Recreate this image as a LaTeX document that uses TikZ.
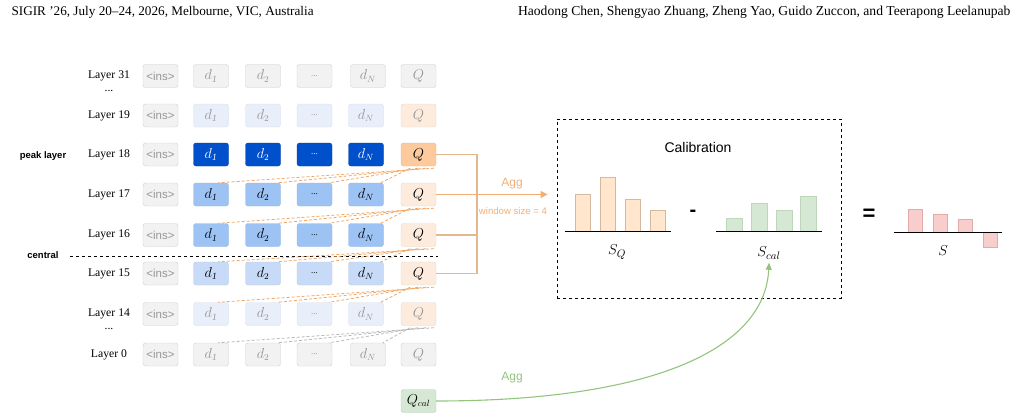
\documentclass[tikz,border=0pt]{standalone}
\usepackage{fontspec}
\setmainfont{Liberation Serif}
\setsansfont{Liberation Sans}
\usepackage{tikz}
\usetikzlibrary{arrows.meta,positioning,calc}
\definecolor{offfill}{RGB}{242,242,242}
\definecolor{offline}{RGB}{206,206,206}
\definecolor{offtext}{RGB}{150,150,150}
\definecolor{peakblue}{RGB}{0,80,204}
\definecolor{midblue}{RGB}{157,195,245}
\definecolor{lowblue}{RGB}{199,219,248}
\definecolor{paleblue}{RGB}{232,239,250}
\definecolor{peakorg}{RGB}{252,202,156}
\definecolor{paleorg}{RGB}{253,236,222}
\definecolor{aggorg}{RGB}{243,174,115}
\definecolor{brkorg}{RGB}{228,184,142}
\definecolor{attnorg}{RGB}{240,166,100}
\definecolor{attngray}{RGB}{185,185,185}
\definecolor{calgreen}{RGB}{213,232,212}
\definecolor{calline}{RGB}{146,196,125}
\definecolor{sqfill}{RGB}{255,230,204}
\definecolor{sqline}{RGB}{212,184,160}
\definecolor{scline}{RGB}{190,214,186}
\definecolor{sfill}{RGB}{248,206,204}
\definecolor{sline}{RGB}{226,170,168}
\tikzset{
  tok/.style={draw=offline,rounded corners=2.5pt,minimum width=35pt,minimum height=23pt,inner sep=0pt,font=\fontsize{13.5}{15}\selectfont},
  off/.style={tok,fill=offfill,text=offtext},
  ins/.style={off,font=\sffamily\fontsize{11.5}{13}\selectfont},
  dpeak/.style={tok,fill=peakblue,draw=peakblue!80!black,text=white},
  dmid/.style={tok,fill=midblue,draw=midblue!80!gray},
  dlow/.style={tok,fill=lowblue,draw=lowblue!80!gray},
  dpale/.style={tok,fill=paleblue,draw=paleblue!85!gray,text=offtext},
  qpeak/.style={tok,fill=peakorg,draw=peakorg!80!gray},
  qmid/.style={tok,fill=paleorg,draw=paleorg!80!gray},
  qpale/.style={qmid,text=offtext},
  qcal/.style={tok,fill=calgreen,draw=calgreen!75!gray},
  layer/.style={font=\fontsize{11.7}{13}\selectfont},
  side/.style={font=\sffamily\bfseries\fontsize{9.5}{11}\selectfont},
  attn/.style={draw=attnorg,dash pattern=on 3pt off 2pt,line width=0.8pt},
  attng/.style={attn,draw=attngray},
  brk/.style={draw=brkorg,line width=1.2pt},
  aggarr/.style={draw=aggorg,line width=1.5pt,-{Triangle[length=7pt,width=7pt]}},
  calarr/.style={draw=calline,line width=1.1pt,-{Triangle[length=7pt,width=6pt]}},
  barq/.style={fill=sqfill,draw=sqline,line width=0.7pt},
  barc/.style={fill=calgreen,draw=scline,line width=0.7pt},
  bars/.style={fill=sfill,draw=sline,line width=0.7pt},
  axis/.style={line width=1pt}
}
\begin{document}
\begin{tikzpicture}[x=1pt,y=-1pt]
\useasboundingbox (0,0) rectangle (1022,420);
% header
\node[anchor=west,font=\fontsize{13.2}{15}\selectfont] (conf) at (8,12) {SIGIR '26, July 20--24, 2026, Melbourne, VIC, Australia};
\node[anchor=east,font=\fontsize{13.6}{15}\selectfont] (auth) at (1014,12) {Haodong Chen, Shengyao Zhuang, Zheng Yao, Guido Zuccon, and Teerapong Leelanupab};
% layer labels
\node[layer] (l31) at (109,76) {Layer 31};
\node[layer] (v31) at (109,91) {...};
\node[layer] (l19) at (109,115.5) {Layer 19};
\node[layer] (l18) at (109,154.5) {Layer 18};
\node[layer] (l17) at (109,194.5) {Layer 17};
\node[layer] (l16) at (109,235) {Layer 16};
\node[layer] (l15) at (109,273.5) {Layer 15};
\node[layer] (l14) at (109,314) {Layer 14};
\node[layer] (v14) at (109,329) {...};
\node[layer] (l0) at (109,354.5) {Layer 0};
\node[side] (peak) at (43,156) {peak layer};
\node[side] (central) at (43,255) {central};
% layer 31
\node[ins] (i31) at (160.5,76) {<ins>};
\node[off] (d31a) at (211,76) {$d_{\mathit{1}}$};
\node[off] (d31b) at (263,76) {$d_2$};
\node[off] (d31c) at (314.5,76) {\small ...};
\node[off] (d31n) at (368,76) {$d_N$};
\node[off] (q31) at (418.5,76) {$Q$};
% layer 19
\node[ins] (i19) at (160.5,115.5) {<ins>};
\node[dpale] (d19a) at (211,115.5) {$d_{\mathit{1}}$};
\node[dpale] (d19b) at (263,115.5) {$d_2$};
\node[dpale] (d19c) at (314.5,115.5) {\small ...};
\node[dpale] (d19n) at (366,115.5) {$d_N$};
\node[qpale] (q19) at (418.5,115.5) {$Q$};
% layer 18
\node[ins] (i18) at (160.5,154.5) {<ins>};
\node[dpeak] (d18a) at (211,154.5) {$d_{\mathit{1}}$};
\node[dpeak] (d18b) at (263,154.5) {$d_2$};
\node[dpeak] (d18c) at (314.5,154.5) {\small ...};
\node[dpeak] (d18n) at (366,154.5) {$d_N$};
\node[qpeak] (q18) at (418.5,154.5) {$Q$};
% layer 17
\node[ins] (i17) at (160.5,194.5) {<ins>};
\node[dmid] (d17a) at (211,194.5) {$d_{\mathit{1}}$};
\node[dmid] (d17b) at (263,194.5) {$d_2$};
\node[dmid] (d17c) at (314.5,194.5) {\small ...};
\node[dmid] (d17n) at (366,194.5) {$d_N$};
\node[qmid] (q17) at (418.5,194.5) {$Q$};
% layer 16
\node[ins] (i16) at (160.5,235) {<ins>};
\node[dmid] (d16a) at (211,235) {$d_{\mathit{1}}$};
\node[dmid] (d16b) at (263,235) {$d_2$};
\node[dmid] (d16c) at (314.5,235) {\small ...};
\node[dmid] (d16n) at (366,235) {$d_N$};
\node[qmid] (q16) at (418.5,235) {$Q$};
% layer 15
\node[ins] (i15) at (160.5,273.5) {<ins>};
\node[dlow] (d15a) at (211,273.5) {$d_{\mathit{1}}$};
\node[dlow] (d15b) at (263,273.5) {$d_2$};
\node[dlow] (d15c) at (314.5,273.5) {\small ...};
\node[dlow] (d15n) at (366,273.5) {$d_N$};
\node[qmid] (q15) at (418.5,273.5) {$Q$};
% layer 14
\node[ins] (i14) at (160.5,314) {<ins>};
\node[dpale] (d14a) at (211,314) {$d_{\mathit{1}}$};
\node[dpale] (d14b) at (263,314) {$d_2$};
\node[dpale] (d14c) at (314.5,314) {\small ...};
\node[dpale] (d14n) at (366,314) {$d_N$};
\node[qpale] (q14) at (418.5,314) {$Q$};
% layer 0
\node[ins] (i0) at (160.5,354.5) {<ins>};
\node[off] (d0a) at (211,354.5) {$d_{\mathit{1}}$};
\node[off] (d0b) at (263,354.5) {$d_2$};
\node[off] (d0c) at (314.5,354.5) {\small ...};
\node[off] (d0n) at (368,354.5) {$d_N$};
\node[off] (q0) at (418.5,354.5) {$Q$};
\node[qcal] (qc) at (418.5,401) {$Q_{cal}$};
% central split
\coordinate (cl) at (70,256);
\coordinate (cr) at (438,256);
\draw[dashed,line width=0.9pt] (cl) -- (cr);
% attention from Q to the next layer down
\draw[attn] ([xshift=-2pt,yshift=-2pt]q18.south east) -- ([xshift=7pt]d17a.north);
\draw[attn] ([xshift=-10pt,yshift=-2pt]q18.south east) -- ([xshift=-3pt]d17b.north east);
\draw[attn] ([xshift=-18pt,yshift=-2pt]q18.south east) -- ([xshift=-3pt]d17c.north east);
\draw[attn] ([xshift=-26pt,yshift=-2pt]q18.south east) -- ([xshift=-3pt]d17n.north east);
\draw[attn] ([xshift=-2pt,yshift=-2pt]q17.south east) -- ([xshift=7pt]d16a.north);
\draw[attn] ([xshift=-10pt,yshift=-2pt]q17.south east) -- ([xshift=-3pt]d16b.north east);
\draw[attn] ([xshift=-18pt,yshift=-2pt]q17.south east) -- ([xshift=-3pt]d16c.north east);
\draw[attn] ([xshift=-26pt,yshift=-2pt]q17.south east) -- ([xshift=-3pt]d16n.north east);
\draw[attn] ([xshift=-2pt,yshift=-2pt]q16.south east) -- ([xshift=7pt]d15a.north);
\draw[attn] ([xshift=-10pt,yshift=-2pt]q16.south east) -- ([xshift=-3pt]d15b.north east);
\draw[attn] ([xshift=-18pt,yshift=-2pt]q16.south east) -- ([xshift=-3pt]d15c.north east);
\draw[attn] ([xshift=-26pt,yshift=-2pt]q16.south east) -- ([xshift=-3pt]d15n.north east);
\draw[attn] ([xshift=-2pt,yshift=-2pt]q15.south east) -- ([xshift=7pt]d14a.north);
\draw[attn] ([xshift=-10pt,yshift=-2pt]q15.south east) -- ([xshift=-3pt]d14b.north east);
\draw[attn] ([xshift=-18pt,yshift=-2pt]q15.south east) -- ([xshift=-3pt]d14c.north east);
\draw[attn] ([xshift=-26pt,yshift=-2pt]q15.south east) -- ([xshift=-3pt]d14n.north east);
\draw[attng] ([xshift=-2pt,yshift=-2pt]q14.south east) -- ([xshift=7pt]d0a.north);
\draw[attng] ([xshift=-10pt,yshift=-2pt]q14.south east) -- ([xshift=-3pt]d0b.north east);
\draw[attng] ([xshift=-18pt,yshift=-2pt]q14.south east) -- ([xshift=-3pt]d0c.north east);
\draw[attng] ([xshift=-26pt,yshift=-2pt]q14.south east) -- ([xshift=-3pt]d0n.north east);
% aggregation over the window
\coordinate (jn) at (477,194.5);
\draw[brk] (q18.east) -- (q18.east -| jn) -- (q15.east -| jn) -- (q15.east);
\draw[brk] (q16.east) -- (q16.east -| jn);
\node[draw,dashed,line width=0.8pt,minimum width=284pt,minimum height=179pt] (calib) at (699,208.5) {};
\draw[aggarr] (q17.east) -- ([xshift=-9pt]calib.west |- q17.east);
\node[font=\sffamily\fontsize{12}{14}\selectfont,text=aggorg] (agg) at (512,184) {Agg};
\node[font=\sffamily\fontsize{9.6}{11}\selectfont,text=aggorg] (win) at (513,211) {window size = 4};
% calibration
\node[font=\sffamily\fontsize{14}{16}\selectfont] (caltitle) at (698,147) {Calibration};
\draw[barq] (575,231) rectangle (590,194);
\draw[barq] (600,231) rectangle (615,177);
\draw[barq] (625,231) rectangle (640,199);
\draw[barq] (650,231) rectangle (665,210);
\draw[axis] (565,231) -- (671,231);
\node[font=\fontsize{15}{17}\selectfont] (sq) at (617,252) {$S_Q$};
\node[font=\sffamily\bfseries\fontsize{20}{22}\selectfont] (minus) at (693,213) {-};
\draw[barc] (726,231) rectangle (742,218);
\draw[barc] (751,231) rectangle (767,203);
\draw[barc] (776,231) rectangle (792,210);
\draw[barc] (800,231) rectangle (816,196);
\draw[axis] (716,231) -- (822,231);
\node[font=\fontsize{15}{17}\selectfont] (scal) at (769,253) {$S_{cal}$};
% result
\node[font=\sffamily\bfseries\fontsize{22}{24}\selectfont] (eq) at (869,215) {=};
\draw[bars] (908,232) rectangle (922,209);
\draw[bars] (933,232) rectangle (947,214);
\draw[bars] (958,232) rectangle (972,219);
\draw[bars] (983,232) rectangle (997,247);
\draw[axis] (894,232) -- (1002,232);
\node[font=\fontsize{15}{17}\selectfont] (s) at (943,251) {$S$};
% calibration query
\draw[calarr] (qc.east) .. controls (650,401) and (765,350) .. (scal.south);
\node[font=\sffamily\fontsize{12}{14}\selectfont,text=calline] (aggc) at (512,378) {Agg};
\end{tikzpicture}
\end{document}
